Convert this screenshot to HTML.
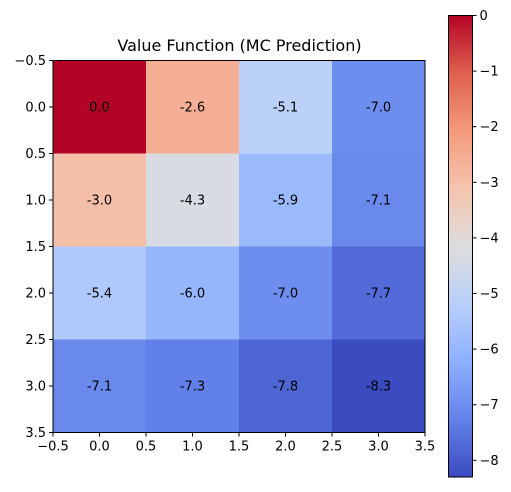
<!DOCTYPE html>
<html><head><meta charset="utf-8"><style>
body{margin:0;background:#fff;}
svg text{font-family:"DejaVu Sans","Liberation Sans",sans-serif;}
</style></head><body>
<svg id="chart" width="511" height="487" xmlns="http://www.w3.org/2000/svg">
<defs><linearGradient id="cbg" x1="0" y1="1" x2="0" y2="0"></linearGradient></defs>
<text x="239.5" y="51" text-anchor="middle" font-size="16">Value Function (MC Prediction)</text>
<g id="cells"></g>
<g id="axes"></g>
<g id="cbar"></g>
</svg>
<script>
const rowLabels=[0,1,2,3];
const colLabels=[0,1,2,3];
const values=[
 [0.0,-2.6,-5.1,-7.0],
 [-3.0,-4.3,-5.9,-7.1],
 [-5.4,-6.0,-7.0,-7.7],
 [-7.1,-7.3,-7.8,-8.3]];
const axisTicks=[-0.5,0.0,0.5,1.0,1.5,2.0,2.5,3.0,3.5];
const cbarTicks=[0,-1,-2,-3,-4,-5,-6,-7,-8];
const vmin=-8.3, vmax=0;

const NS="http://www.w3.org/2000/svg";
const L=53,T=60.5,S=372;
const n=rowLabels.length;
const xs=v=>L+(v+0.5)*S/n;
const ys=v=>T+(v+0.5)*S/n;
const anchors=[[0,[59,76,192]],[0.125,[98,130,234]],[0.25,[141,176,254]],[0.375,[184,208,249]],[0.5,[221,221,221]],[0.625,[244,196,173]],[0.75,[244,154,123]],[0.875,[222,96,77]],[1,[180,4,38]]];
function cmap(t){t=Math.max(0,Math.min(1,t));for(let i=1;i<anchors.length;i++){if(t<=anchors[i][0]){const a=anchors[i-1],b=anchors[i];const f=(t-a[0])/(b[0]-a[0]);const c=a[1].map((v,k)=>Math.round(v+(b[1][k]-v)*f));return `rgb(${c})`;}}return 'rgb(180,4,38)';}
function mk(tag,attrs,parent){const e=document.createElementNS(NS,tag);for(const k in attrs)e.setAttribute(k,attrs[k]);parent.appendChild(e);return e;}
const cells=document.getElementById('cells');
values.forEach((row,r)=>row.forEach((v,c)=>{
 const rc=mk('rect',{x:xs(c-0.5),y:ys(r-0.5),width:S/n+0.5,height:S/n+0.5,fill:cmap((v-vmin)/(vmax-vmin))},cells);
 
 
 const t=mk('text',{x:xs(c),y:ys(r)+4.5,'text-anchor':'middle','font-size':'13'},cells);
 
 
 t.textContent=v.toFixed(1);
}));
const ax=document.getElementById('axes');
const fr=mk('rect',{x:L,y:T,width:S,height:S,fill:'none',stroke:'#000','stroke-width':1},ax);


axisTicks.forEach(v=>{
 const lab=v.toFixed(1).replace('-','\u2212');
 mk('line',{x1:xs(v),x2:xs(v),y1:T+S,y2:T+S+4,stroke:'#000'},ax);
 const tx=mk('text',{x:xs(v),y:T+S+18,'text-anchor':'middle','font-size':'13'},ax);
 
 
 tx.textContent=lab;
 mk('line',{x1:L-4,x2:L,y1:ys(v),y2:ys(v),stroke:'#000'},ax);
 const ty=mk('text',{x:L-7,y:ys(v)+4.5,'text-anchor':'end','font-size':'13'},ax);
 
 
 ty.textContent=lab;
});
const cb=document.getElementById('cbar');
const CX=448.5,CT=15.5,CB=477,CW=24;
const cy=v=>CT+(vmax-v)/(vmax-vmin)*(CB-CT);
const g=document.getElementById('cbg');
for(let i=0;i<=16;i++){mk('stop',{offset:i/16,'stop-color':cmap(i/16)},g);}
const cr=mk('rect',{x:CX,y:CT,width:CW,height:CB-CT,fill:'url(#cbg)',stroke:'#000','stroke-width':1},cb);


cbarTicks.forEach(v=>{
 mk('line',{x1:CX+CW,x2:CX+CW+4,y1:cy(v),y2:cy(v),stroke:'#000'},cb);
 const t=mk('text',{x:CX+CW+7,y:cy(v)+4.5,'font-size':'13'},cb);
 
 
 t.textContent=String(v).replace('-','\u2212');
});
</script>
</body></html>
